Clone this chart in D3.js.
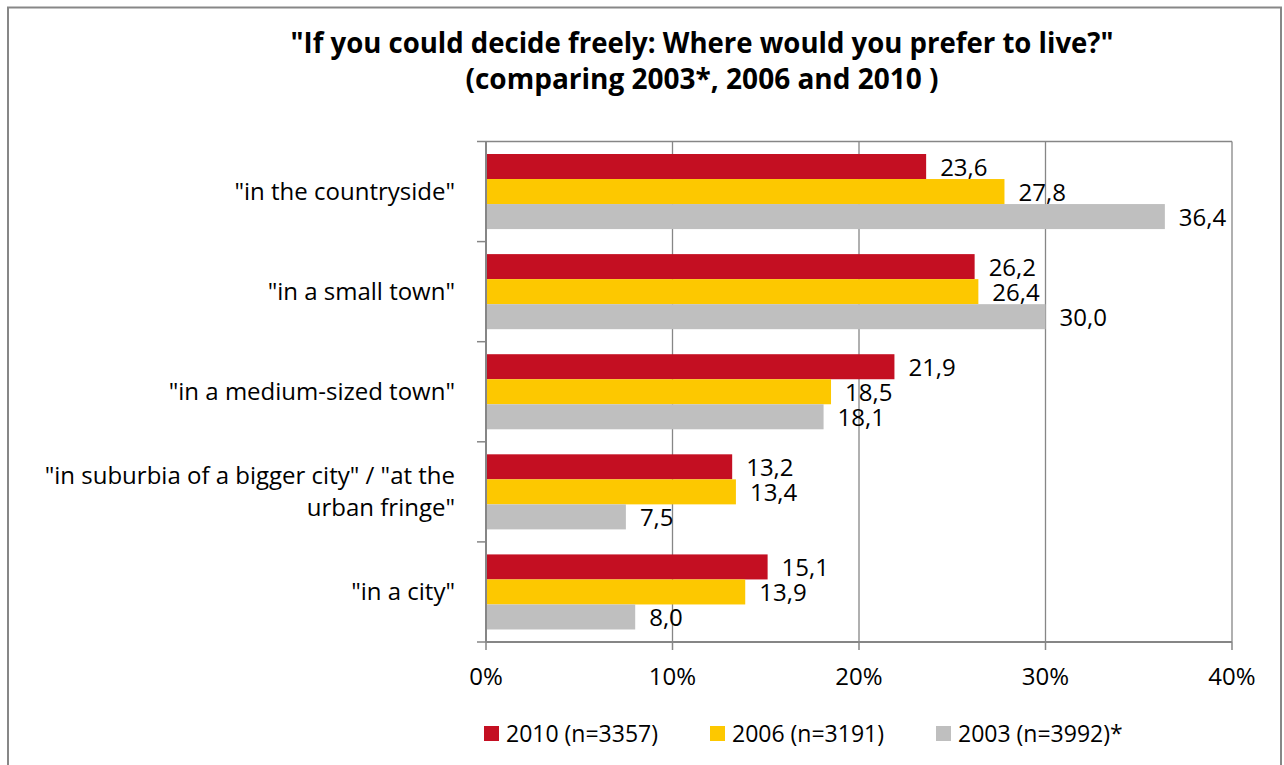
<!DOCTYPE html>
<html>
<head>
<meta charset="utf-8">
<script src="https://cdn.jsdelivr.net/npm/d3@7"></script>
<style>
    body { margin: 0; background: #fff; }
    text { font-family: "Open Sans", "Noto Sans", sans-serif; fill: #000; }
</style>
</head>
<body>
<div id="chart"></div>
<script>
// chart data
var titleLines = ["\"If you could decide freely: Where would you prefer to live?\"", "(comparing 2003*, 2006 and 2010 )"];
var categories = ["\"in the countryside\"", "\"in a small town\"", "\"in a medium-sized town\"", "\"in suburbia of a bigger city\" / \"at the urban fringe\"", "\"in a city\""];
var seriesNames = ["2010 (n=3357)", "2006 (n=3191)", "2003 (n=3992)*"];
var values2010 = [23.6, 26.2, 21.9, 13.2, 15.1];
var values2006 = [27.8, 26.4, 18.5, 13.4, 13.9];
var values2003 = [36.4, 30.0, 18.1, 7.5, 8.0];
var xTicks = [0, 10, 20, 30, 40];
var seriesColors = ["#c40f22", "#fdc800", "#bfbfbf"];

var seriesValues = [values2010, values2006, values2003];

var fullWidth = 1284;
var fullHeight = 765;
var margin = { "top" : 141.5, "right" : 52, "bottom" : 123, "left" : 486 };
var width = fullWidth - margin.left - margin.right;
var height = fullHeight - margin.top - margin.bottom;

/**
 * commas for decimals, like the original
 */
function formatValue(v) {
    return d3.format(".1f")(v).replace(".", ",");
}

/**
 * word wrap a text element into tspans
 */
function wrapLabel(textSel, maxWidth, lineHeight) {
    textSel.each(function(d) {
        var text = d3.select(this);
        var words = d.split(" ");
        var lines = [];
        var line = [];
        var probe = text.append("tspan");
        for (var i = 0; i < words.length; i++) {
            line.push(words[i]);
            probe.text(line.join(" "));
            if (probe.node().getComputedTextLength() > maxWidth && line.length > 1) {
                line.pop();
                lines.push(line.join(" "));
                line = [words[i]];
            }
        }
        lines.push(line.join(" "));
        probe.remove();
        var y = +text.attr("y");
        var start = -(lines.length - 1) / 2 * lineHeight;
        lines.forEach(function(l, k) {
            text.append("tspan").attr("x", text.attr("x")).attr("y", y + start + k * lineHeight).text(l);
        });
    });
}

var svg = d3.select("#chart").append("svg")
    .attr("width", fullWidth)
    .attr("height", fullHeight);

// outer chart border
svg.append("rect")
    .attr("x", 8)
    .attr("y", 7.5)
    .attr("width", 1273)
    .attr("height", 800)
    .style("fill", "none")
    .style("stroke", "#878787")
    .style("stroke-width", 2);

// title
var title = svg.append("g").selectAll("text").data(titleLines).enter().append("text")
    .attr("x", 702)
    .attr("y", function(d, i) { return 53 + i * 36; })
    .style("text-anchor", "middle")
    .style("font-weight", "bold")
    .style("font-size", "28px")
    .text(function(d) { return d; });
var titleWidths = [823, 474];
title.each(function(d, i) {
    if (this.getComputedTextLength() > titleWidths[i]) {
        d3.select(this).attr("textLength", titleWidths[i]).attr("lengthAdjust", "spacingAndGlyphs");
    }
});

var g = svg.append("g").attr("transform", "translate(" + margin.left + "," + margin.top + ")");

var x = d3.scaleLinear().domain([0, 40]).range([0, width]);
var y = d3.scaleBand().domain(categories).range([0, height]).paddingInner(0.25).paddingOuter(0.125);
var ySeries = d3.scaleBand().domain(d3.range(seriesNames.length)).range([0, y.bandwidth()]);
var yCat = d3.scalePoint().domain(d3.range(categories.length + 1)).range([0, height]);

// gridlines
g.selectAll(".grid").data(xTicks.slice(1)).enter().append("line")
    .attr("class", "grid")
    .attr("x1", function(d) { return x(d); })
    .attr("x2", function(d) { return x(d); })
    .attr("y1", 0)
    .attr("y2", height)
    .style("stroke", "#868686")
    .style("stroke-width", 1.3);

// plot border top
g.append("line")
    .attr("x1", 0).attr("x2", width)
    .attr("y1", 0).attr("y2", 0)
    .style("stroke", "#868686")
    .style("stroke-width", 1.3);

// bars
var barData = [];
categories.forEach(function(c, ci) {
    seriesValues.forEach(function(vals, si) {
        barData.push({ "category" : c, "series" : si, "value" : vals[ci] });
    });
});

g.selectAll(".bar").data(barData).enter().append("rect")
    .attr("class", "bar")
    .attr("x", 0)
    .attr("y", function(d) { return y(d.category) + ySeries(d.series); })
    .attr("width", function(d) { return x(d.value); })
    .attr("height", ySeries.bandwidth())
    .style("fill", function(d) { return seriesColors[d.series]; });

g.selectAll(".valueLabel").data(barData).enter().append("text")
    .attr("class", "valueLabel")
    .attr("x", function(d) { return x(d.value) + 14; })
    .attr("y", function(d) { return y(d.category) + ySeries(d.series) + ySeries.bandwidth() / 2 + 9; })
    .style("font-size", "24px")
    .text(function(d) { return formatValue(d.value); });

// y axis with ticks between categories
g.append("line")
    .attr("x1", 0).attr("x2", 0)
    .attr("y1", 0).attr("y2", height)
    .style("stroke", "#868686")
    .style("stroke-width", 2);
g.selectAll(".yTick").data(d3.range(categories.length + 1)).enter().append("line")
    .attr("class", "yTick")
    .attr("x1", -9).attr("x2", 0)
    .attr("y1", function(d) { return yCat(d); })
    .attr("y2", function(d) { return yCat(d); })
    .style("stroke", "#868686")
    .style("stroke-width", 1.5);

g.selectAll(".catLabel").data(categories).enter().append("text")
    .attr("class", "catLabel")
    .attr("x", -31)
    .attr("y", function(d) { return y(d) + y.bandwidth() / 2 + 8; })
    .style("text-anchor", "end")
    .style("font-size", "24px")
    .call(wrapLabel, 445, 32);

// x axis
g.append("line")
    .attr("x1", 0).attr("x2", width)
    .attr("y1", height).attr("y2", height)
    .style("stroke", "#868686")
    .style("stroke-width", 2);
g.selectAll(".xTick").data(xTicks).enter().append("line")
    .attr("class", "xTick")
    .attr("x1", function(d) { return x(d); })
    .attr("x2", function(d) { return x(d); })
    .attr("y1", height)
    .attr("y2", height + 8)
    .style("stroke", "#868686")
    .style("stroke-width", 1.5);
g.selectAll(".xLabel").data(xTicks).enter().append("text")
    .attr("class", "xLabel")
    .attr("x", function(d) { return x(d); })
    .attr("y", height + 43)
    .style("text-anchor", "middle")
    .style("font-size", "24px")
    .text(function(d) { return d + "%"; });

// legend
var legendX = [484, 710, 936];
var legend = svg.selectAll(".legend").data(seriesNames).enter().append("g")
    .attr("class", "legend")
    .attr("transform", function(d, i) { return "translate(" + legendX[i] + ",726)"; });
legend.append("rect")
    .attr("width", 15)
    .attr("height", 15)
    .style("fill", function(d, i) { return seriesColors[i]; });
legend.append("text")
    .attr("x", 22)
    .attr("y", 16)
    .style("font-size", "23px")
    .text(function(d) { return d; });
</script>
</body>
</html>
